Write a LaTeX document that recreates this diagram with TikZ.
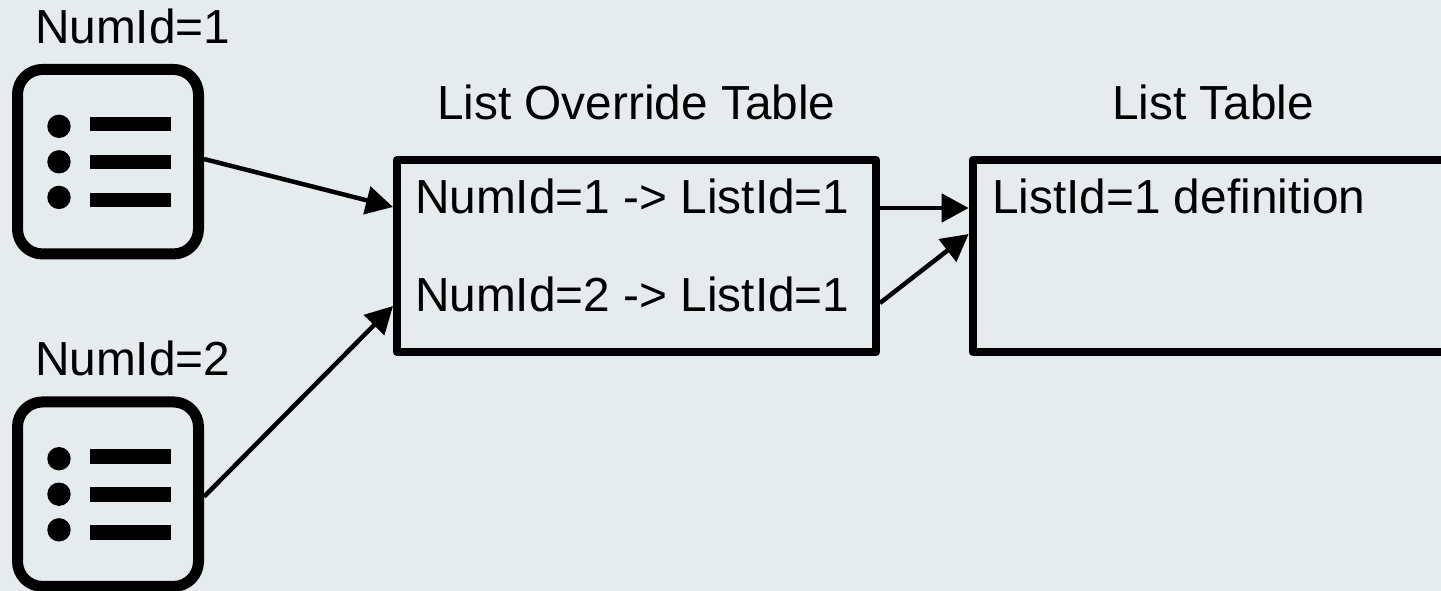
\documentclass[tikz,border=0pt]{standalone}
\usepackage{fontspec}
\setmainfont{Liberation Sans}
\usetikzlibrary{arrows.meta,calc}
\definecolor{bgc}{RGB}{230,236,238}
\tikzset{
  iconbox/.style={draw=black,line width=11pt,rounded corners=25pt,minimum width=181pt,minimum height=184.5pt,inner sep=0pt},
  tablebox/.style={draw=black,line width=8pt,line join=round,inner sep=0pt},
  label/.style={anchor=base west,inner sep=0pt,outer sep=0pt,text=black,font=\fontsize{47.8}{57}\selectfont},
  conn/.style={draw=black,line width=4.5pt,-{Triangle[length=27pt,width=28pt]},shorten >=0pt},
  bar/.style={fill=black},
}
\begin{document}
\begin{tikzpicture}[x=1pt,y=-1pt]
\useasboundingbox (0,0) rectangle (1441,591);
\fill[bgc] (0,0) rectangle (1441,591);
\clip (0,0) rectangle (1441,591);
% labels
\node[label] (n1) at (35,44) {NumId=1};
\node[label] (n2) at (35,375) {NumId=2};
\node[label] (t1) at (437,120) {List Override Table};
\node[label] (t2) at (1112,120) {List Table};
% icons
\node[iconbox] (i1) at (108,161.7) {};
\node[iconbox] (i2) at (108,494.2) {};
\foreach \dy in {0,332.4}{
  \begin{scope}[yshift=-\dy pt]
  \fill (59,126.3) circle (11.7);
  \fill (59,161.8) circle (11.7);
  \fill (59,197.4) circle (11.7);
  \fill[bar] (90,116.8) rectangle (171,131.2);
  \fill[bar] (90,154.8) rectangle (171,169.2);
  \fill[bar] (90,192.8) rectangle (171,207.2);
  \end{scope}
}
% tables
\node[tablebox,minimum width=479pt,minimum height=192pt] (b1) at (636.5,256) {};
\node[tablebox,minimum width=500pt,minimum height=192pt] (b2) at (1222.7,256) {};
\node[label] (r1) at (415,214) {NumId=1 -> ListId=1};
\node[label] (r2) at (415,311) {NumId=2 -> ListId=1};
\node[label] (d1) at (992,214) {ListId=1 definition};
% connectors
\draw[conn] ($(i1.east)+(0,-2.7)$) -- ($(b1.west)+(0,-49)$);
\draw[conn] ($(i2.east)+(0,2.5)$) -- ($(b1.west)+(0,50)$);
\draw[conn] ($(b1.east)+(0,-48)$) -- ($(b2.west)+(0,-48)$);
\draw[conn] ($(b1.east)+(0,47)$) -- ($(b2.west)+(0,-22)$);
\end{tikzpicture}
\end{document}
